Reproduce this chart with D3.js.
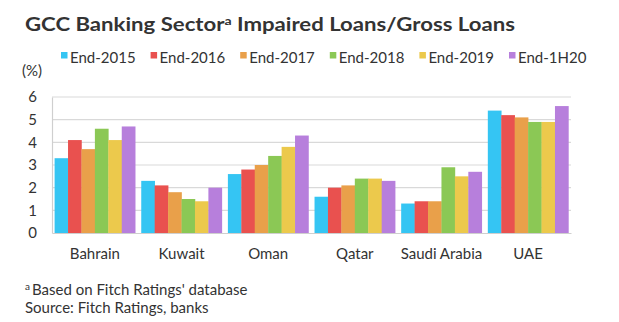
<!DOCTYPE html>
<html lang="en">
<head>
<meta charset="utf-8">
<title>GCC Banking Sector Impaired Loans/Gross Loans</title>
<script src="https://d3js.org/d3.v7.min.js"></script>
<style>
    body { margin: 0; background: #fff; }
    svg { display: block; font-family: Lato, "Open Sans", sans-serif; }
</style>
</head>
<body>
<svg id="chart" width="619" height="322"></svg>
<script>
// countries along the x axis
var countries = ["Bahrain", "Kuwait", "Oman", "Qatar", "Saudi Arabia", "UAE"];
// one series per period
var periods = ["End-2015", "End-2016", "End-2017", "End-2018", "End-2019", "End-1H20"];
var colors = ["#35c5f3", "#e9514f", "#e9a04a", "#8bc855", "#ecc94c", "#b77fdc"];
var end2015 = [3.3, 2.3, 2.6, 1.6, 1.3, 5.4];
var end2016 = [4.1, 2.1, 2.8, 2.0, 1.4, 5.2];
var end2017 = [3.7, 1.8, 3.0, 2.1, 1.4, 5.1];
var end2018 = [4.6, 1.5, 3.4, 2.4, 2.9, 4.9];
var end2019 = [4.1, 1.4, 3.8, 2.4, 2.5, 4.9];
var end1H20 = [4.7, 2.0, 4.3, 2.3, 2.7, 5.6];
var yTicks = [0, 1, 2, 3, 4, 5, 6];

var series = [end2015, end2016, end2017, end2018, end2019, end1H20];
var rows = [];
countries.forEach(function (c, i) {
    periods.forEach(function (p, j) {
        rows.push({ country: c, period: p, value: series[j][i] });
    });
});

var svg = d3.select("#chart");
var textColor = "#333";
var fs = "15px";

var margin = { left: 52, right: 48, top: 97, bottom: 89 };
var width = 619, height = 322;

var x = d3.scaleBand()
    .domain(countries)
    .range([margin.left, width - margin.right])
    .paddingInner(0.07)
    .paddingOuter(0.03);
var xi = d3.scaleBand()
    .domain(periods)
    .range([0, x.bandwidth()]);
var y = d3.scaleLinear()
    .domain([0, 6])
    .range([height - margin.bottom, margin.top]);
var color = d3.scaleOrdinal().domain(periods).range(colors);

// title, stretched a little to the heading's width
var title = svg.append("text")
    .attr("x", 25).attr("y", 31)
    .attr("fill", textColor)
    .attr("textLength", 490)
    .attr("lengthAdjust", "spacingAndGlyphs")
    .style("font-size", "19px")
    .style("font-weight", "bold");
title.append("tspan").text("GCC Banking Sector");
title.append("tspan").text("a").style("font-size", "12px").attr("dy", -6);
title.append("tspan").text(" Impaired Loans/Gross Loans").attr("dy", 6);

// legend
var legend = svg.append("g").selectAll("g")
    .data(periods)
    .join("g")
    .attr("transform", function (d, i) { return "translate(" + (61 + i * 89.6) + ",0)"; });
legend.append("rect")
    .attr("x", 0).attr("y", 52)
    .attr("width", 6.5).attr("height", 6.5)
    .attr("fill", function (d) { return color(d); });
legend.append("text")
    .attr("x", 9).attr("y", 63)
    .attr("fill", textColor)
    .style("font-size", fs)
    .text(function (d) { return d; });

svg.append("text")
    .attr("x", 22).attr("y", 76)
    .attr("fill", textColor)
    .style("font-size", fs)
    .text("(%)");

// horizontal gridlines
svg.append("g")
    .selectAll("line")
    .data(yTicks.slice(1))
    .join("line")
    .attr("x1", margin.left).attr("x2", width - margin.right)
    .attr("y1", function (d) { return y(d); })
    .attr("y2", function (d) { return y(d); })
    .attr("stroke", "#d9d9d9")
    .attr("stroke-width", 1.2);

// y axis labels
var yAxis = svg.append("g")
    .attr("transform", "translate(" + margin.left + ",0)")
    .call(d3.axisLeft(y).tickValues(yTicks).tickFormat(d3.format("d")).tickSize(0).tickPadding(15));
yAxis.select(".domain").attr("stroke", "#cfcfcf").attr("stroke-width", 1.2);
yAxis.selectAll("text")
    .attr("fill", textColor)
    .style("font-family", "Lato, sans-serif")
    .style("font-size", fs);

// bars
svg.append("g")
    .selectAll("rect")
    .data(rows)
    .join("rect")
    .attr("x", function (d) { return x(d.country) + xi(d.period); })
    .attr("y", function (d) { return y(d.value); })
    .attr("width", xi.bandwidth() + 0.3)
    .attr("height", function (d) { return y(0) - y(d.value); })
    .attr("fill", function (d) { return color(d.period); });

// x axis
var xAxis = svg.append("g")
    .attr("transform", "translate(0," + y(0) + ")")
    .call(d3.axisBottom(x).tickSize(0).tickPadding(15));
xAxis.select(".domain").attr("stroke", "#cfcfcf").attr("stroke-width", 1.2);
xAxis.selectAll("text")
    .attr("fill", textColor)
    .style("font-family", "Lato, sans-serif")
    .style("font-size", fs);

// notes
var note = svg.append("text")
    .attr("x", 25).attr("y", 295)
    .attr("fill", textColor)
    .style("font-size", fs);
note.append("tspan").text("a").style("font-size", "10px").attr("dy", -5);
note.append("tspan").text("Based on Fitch Ratings' database").attr("dx", 2).attr("dy", 5);
svg.append("text")
    .attr("x", 25).attr("y", 313)
    .attr("fill", textColor)
    .style("font-size", fs)
    .text("Source: Fitch Ratings, banks");
</script>
</body>
</html>
